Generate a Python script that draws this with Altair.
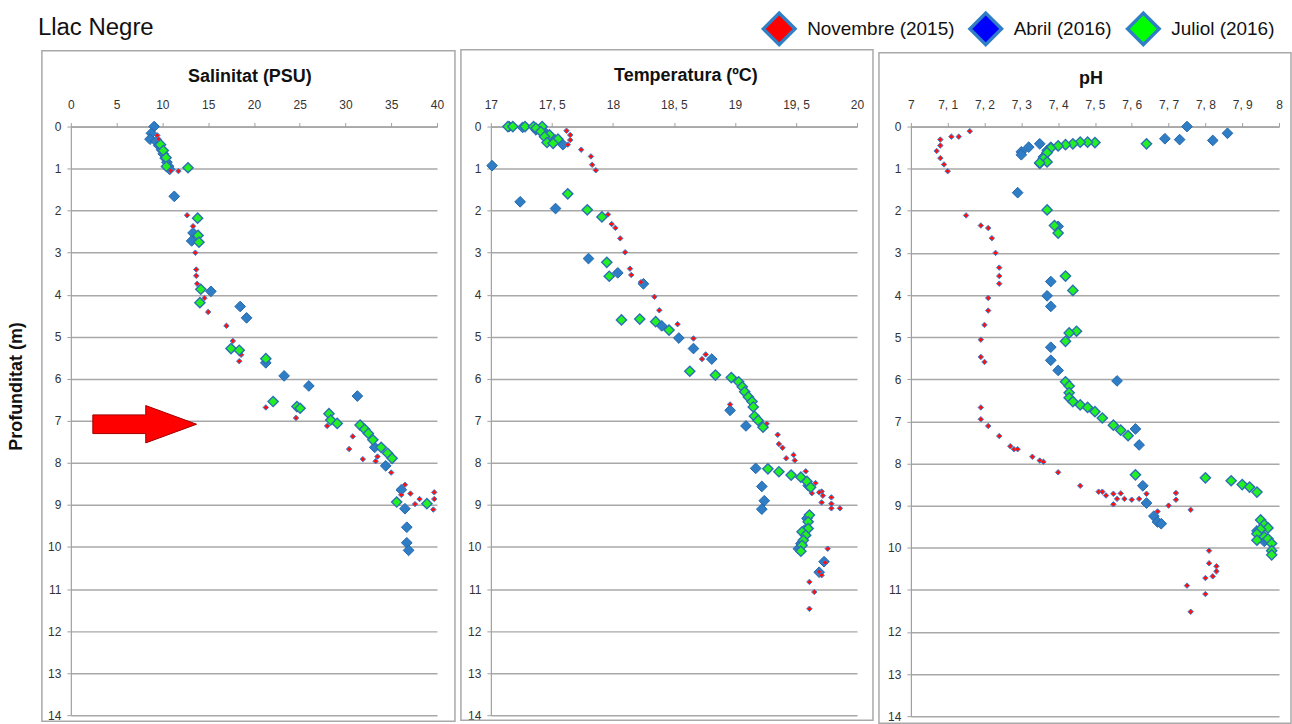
import altair as alt
import pandas as pd

FONT = "Liberation Sans"
series_names = ["Novembre (2015)", "Abril (2016)", "Juliol (2016)"]
legend_fills = ["#ff0000", "#0000ff", "#00ff00"]

# ---------------- Salinitat (PSU) ----------------
sal_nov_psu = [9.45, 9.6, 9.9, 10.2, 10.5, 10.7, 10.9, 11.75, 12.7, 13.35, 13.6, 13.7, 13.7, 13.8, 14.6, 15.0,
               17.0, 17.7, 18.6, 18.4, 21.3, 24.6, 28.0, 30.8, 30.4, 31.9, 33.3, 33.5, 35.0, 36.5, 36.1, 37.1,
               38.1, 37.6, 39.7, 39.7, 39.6]
sal_nov_m = [0.21, 0.30, 0.45, 0.60, 0.80, 0.95, 1.05, 1.06, 2.11, 2.37, 3.0, 3.4, 3.55, 3.74, 4.08, 4.41,
             4.74, 5.1, 5.43, 5.58, 6.68, 6.93, 7.12, 7.37, 7.67, 7.91, 7.96, 7.85, 8.23, 8.52, 8.76, 8.73,
             8.86, 8.98, 8.70, 8.86, 9.11]
sal_abr_psu = [9.1, 8.8, 8.65, 9.3, 9.6, 9.9, 10.1, 10.3, 10.5, 10.7, 10.8, 11.3, 13.35, 13.2, 15.3, 18.5,
               19.2, 21.3, 23.3, 26.0, 31.3, 33.2, 34.4, 36.1, 36.5, 36.7, 36.7, 36.9]
sal_abr_m = [0.0, 0.16, 0.30, 0.35, 0.45, 0.55, 0.65, 0.75, 0.85, 0.95, 1.02, 1.66, 2.53, 2.72, 3.92, 4.28,
             4.55, 5.62, 5.93, 6.17, 6.41, 7.63, 8.07, 8.64, 9.09, 9.53, 9.90, 10.08]
sal_jul_psu = [9.8, 10.1, 10.4, 10.45, 12.8, 13.85, 13.9, 14.0, 14.2, 14.1, 17.5, 18.4, 21.3, 22.1, 24.7,
               25.05, 28.2, 28.4, 29.1, 31.6, 32.1, 32.5, 33.0, 33.9, 34.6, 35.1, 35.6, 38.9]
sal_jul_m = [0.43, 0.57, 0.74, 0.95, 0.98, 2.18, 2.59, 2.75, 3.87, 4.19, 5.28, 5.32, 5.52, 6.54, 6.66,
             6.70, 6.83, 6.98, 7.06, 7.10, 7.20, 7.30, 7.45, 7.63, 7.77, 7.89, 8.93, 8.97]

# ---------------- Temperatura (ºC) ----------------
tmp_nov_c = [17.38, 17.62, 17.65, 17.65, 17.63, 17.74, 17.82, 17.83, 17.86, 17.96, 17.99, 18.02, 18.06, 18.10,
             18.14, 18.15, 18.23, 18.34, 18.38, 18.53, 18.66, 18.76, 18.73, 18.96, 19.26, 19.35, 19.36, 19.39,
             19.42, 19.48, 19.49, 19.58, 19.66, 19.63, 19.71, 19.72, 19.71, 19.79, 19.79, 19.79, 19.86, 19.69,
             19.76, 19.74, 19.69, 19.71, 19.61, 19.65, 19.61]
tmp_nov_m = [0.02, 0.10, 0.20, 0.32, 0.43, 0.55, 0.71, 0.91, 1.04, 2.09, 2.32, 2.41, 2.66, 2.99,
             3.38, 3.53, 3.70, 4.05, 4.37, 4.70, 5.04, 5.42, 5.53, 6.61, 7.07, 7.33, 7.55, 7.64,
             7.89, 7.81, 7.94, 8.20, 8.48, 8.72, 8.68, 8.78, 8.94, 8.82, 9.08, 8.97, 9.08, 8.70,
             10.04, 10.37, 10.59, 10.67, 10.83, 11.07, 11.47]
tmp_abr_c = [17.15, 17.26, 17.37, 17.45, 17.53, 17.59, 17.01, 17.24, 17.53, 17.80, 18.04, 18.25, 18.40, 18.54,
             18.66, 18.81, 18.96, 19.09, 19.17, 19.22, 19.24, 19.22, 19.60, 19.59, 19.57, 19.54, 19.52, 19.73,
             19.69]
tmp_abr_m = [0.0, 0.02, 0.08, 0.16, 0.32, 0.43, 0.93, 1.79, 1.95, 3.14, 3.48, 3.74, 4.74, 5.03,
             5.28, 5.53, 6.75, 7.12, 8.13, 8.56, 8.90, 9.10, 8.54, 9.32, 9.60, 9.92, 10.04, 10.35,
             10.60]
tmp_jul_c = [17.14, 17.18, 17.28, 17.35, 17.42, 17.37, 17.41, 17.48, 17.44, 17.55, 17.46, 17.51, 17.63, 17.79,
             17.91, 17.95, 17.97, 18.07, 18.22, 18.35, 18.46, 18.63, 18.84, 18.97, 19.03, 19.06, 19.08, 19.11,
             19.14, 19.15, 19.16, 19.19, 19.23, 19.27, 19.36, 19.46, 19.54, 19.59, 19.62, 19.61, 19.60, 19.60,
             19.55, 19.58, 19.56, 19.55, 19.54]
tmp_jul_m = [0.0, 0.0, 0.0, 0.0, 0.0, 0.04, 0.12, 0.20, 0.24, 0.30, 0.38, 0.40, 1.60, 1.98,
             2.15, 3.23, 3.56, 4.60, 4.58, 4.64, 4.84, 5.82, 5.91, 5.97, 6.07, 6.19, 6.31, 6.43,
             6.54, 6.67, 6.89, 6.99, 7.15, 8.14, 8.21, 8.29, 8.34, 8.44, 8.58, 9.24, 9.40, 9.56,
             9.64, 9.72, 9.84, 9.96, 10.10]

# ---------------- pH ----------------
ph_nov = [7.16, 7.13, 7.11, 7.08, 7.08, 7.07, 7.08, 7.09, 7.10, 7.15, 7.19, 7.21, 7.22, 7.23, 7.24, 7.24,
          7.24, 7.21, 7.21, 7.20, 7.19, 7.19, 7.20, 7.19, 7.19, 7.21, 7.24, 7.27, 7.28, 7.29, 7.33, 7.35,
          7.36, 7.40, 7.46, 7.51, 7.52, 7.53, 7.55, 7.57, 7.56, 7.58, 7.60, 7.62, 7.64, 7.55, 7.67, 7.70,
          7.72, 7.72, 7.76, 7.81, 7.81, 7.83, 7.83, 7.82, 7.80, 7.75, 7.80, 7.76]
ph_nov_m = [0.11, 0.24, 0.24, 0.31, 0.45, 0.58, 0.75, 0.90, 1.06, 2.11, 2.35, 2.41, 2.65, 3.00, 3.35, 3.55,
            3.73, 4.07, 4.37, 4.71, 5.06, 5.47, 5.59, 6.67, 6.95, 7.11, 7.35, 7.59, 7.66, 7.66, 7.84, 7.93,
            7.96, 8.21, 8.53, 8.67, 8.67, 8.76, 8.72, 8.71, 8.84, 8.84, 8.86, 8.84, 8.72, 8.97, 9.14, 9.00,
            8.86, 8.70, 9.10, 10.07, 10.37, 10.44, 10.56, 10.68, 10.72, 10.90, 11.10, 11.52]
ph_abr = [7.75, 7.86, 7.69, 7.73, 7.82, 7.35, 7.32, 7.30, 7.30, 7.36, 7.37, 7.38, 7.35, 7.29, 7.40, 7.38,
          7.37, 7.38, 7.38, 7.38, 7.40, 7.56, 7.61, 7.62, 7.63, 7.64, 7.66, 7.67, 7.68, 7.95, 7.96, 7.94]
ph_abr_m = [0.0, 0.16, 0.29, 0.31, 0.33, 0.41, 0.49, 0.60, 0.67, 0.72, 0.57, 0.49, 0.88, 1.57, 2.37, 3.68,
            4.02, 4.27, 5.24, 5.55, 5.79, 6.04, 7.18, 7.56, 8.53, 8.94, 9.25, 9.39, 9.43, 9.75, 9.85, 9.60]
ph_jul = [7.64, 7.50, 7.48, 7.46, 7.44, 7.42, 7.40, 7.38, 7.37, 7.36, 7.37, 7.35, 7.37, 7.39, 7.40, 7.42,
          7.44, 7.45, 7.43, 7.42, 7.42, 7.43, 7.43, 7.43, 7.44, 7.46, 7.48, 7.50, 7.52, 7.55, 7.57, 7.59,
          7.61, 7.80, 7.87, 7.90, 7.92, 7.94, 7.95, 7.96, 7.97, 7.95, 7.94, 7.96, 7.97, 7.98, 7.98, 7.98,
          7.94]
ph_jul_m = [0.41, 0.38, 0.37, 0.37, 0.41, 0.43, 0.46, 0.51, 0.62, 0.76, 0.84, 0.86, 1.98, 2.35, 2.53, 3.55,
            3.89, 4.86, 4.90, 5.10, 6.06, 6.16, 6.32, 6.44, 6.53, 6.61, 6.67, 6.77, 6.92, 7.09, 7.21, 7.34,
            8.27, 8.34, 8.41, 8.50, 8.56, 8.68, 9.34, 9.45, 9.53, 9.56, 9.67, 9.74, 9.79, 9.90, 10.07, 10.17,
            9.82]

sal_ticks = [0, 5, 10, 15, 20, 25, 30, 35, 40]
temp_ticks = [17, 17.5, 18, 18.5, 19, 19.5, 20]
ph_ticks = [7, 7.1, 7.2, 7.3, 7.4, 7.5, 7.6, 7.7, 7.8, 7.9, 8]
depth_ticks = list(range(15))

arrow_psu = [8.07]
arrow_m = [7.08]


def frame(groups):
    rows = []
    for name, (vals, deps) in zip(series_names, groups):
        for v, d in zip(vals, deps):
            rows.append({"serie": name, "val": v, "depth": d})
    return pd.DataFrame(rows)


sal_df = frame([(sal_nov_psu, sal_nov_m), (sal_abr_psu, sal_abr_m), (sal_jul_psu, sal_jul_m)])
tmp_df = frame([(tmp_nov_c, tmp_nov_m), (tmp_abr_c, tmp_abr_m), (tmp_jul_c, tmp_jul_m)])
ph_df = frame([(ph_nov, ph_nov_m), (ph_abr, ph_abr_m), (ph_jul, ph_jul_m)])

EDGE = "#2b70b4"
styles = {
    "Abril (2016)": dict(fill="#2f7dc4", stroke="#2467ab", strokeWidth=1, size=115),
    "Novembre (2015)": dict(fill="#ff1010", stroke="#3b7fd0", strokeWidth=1, size=30),
    "Juliol (2016)": dict(fill="#22f022", stroke=EDGE, strokeWidth=1.4, size=105),
}
draw_order = ["Abril (2016)", "Novembre (2015)", "Juliol (2016)"]
ARROW = "M-1,-0.18L0.02,-0.18L0.02,-0.36L1,0L0.02,0.36L0.02,0.18L-1,0.18Z"


def panel(df, dom, ticks, title, w, h, box, dx, ytitle=False, legend=False, arrow=False):
    xenc = alt.X("val:Q", scale=alt.Scale(domain=dom, nice=False, zero=False),
                 axis=alt.Axis(orient="top", values=ticks, title=None, grid=False, labelFlush=False,
                               labelExpr="replace(format(datum.value, '~g'), '.', ', ')",
                               tickSize=4, labelPadding=11))
    yaxis = dict(values=depth_ticks, grid=True, tickSize=4, labelPadding=6, title=None)
    if ytitle:
        yaxis.update(title="Profunditat (m)", titleX=-45, titleY=260, titleFontSize=18,
                     titleFontWeight="bold", titleFont=FONT, titleColor="#111")
    yenc = alt.Y("depth:Q", scale=alt.Scale(domain=[0, 14], reverse=True, nice=False, zero=False),
                 axis=alt.Axis(**yaxis))
    layers = [
        alt.Chart(pd.DataFrame({"k": [0]})).mark_rect(
            fill="#ffffff", fillOpacity=0, stroke="#a9a9a9", strokeWidth=1.5
        ).encode(x=alt.value(box[0]), x2=alt.value(box[1]), y=alt.value(box[2]), y2=alt.value(box[3]))
    ]
    if legend:
        layers.append(
            alt.Chart(df).mark_point(shape="diamond", filled=True, size=0, stroke="#2f7ec6",
                                     strokeWidth=3.5, opacity=1).encode(
                x=xenc, y=yenc,
                fill=alt.Fill("serie:N", scale=alt.Scale(domain=series_names, range=legend_fills),
                              legend=alt.Legend(orient="none", legendX=692, legendY=-116,
                                                direction="horizontal", title=None,
                                                symbolType="diamond", symbolSize=1000,
                                                symbolStrokeWidth=3.5, symbolStrokeColor="#2f7ec6",
                                                labelFontSize=19, labelFont=FONT, labelColor="#111",
                                                labelOffset=10, columnPadding=8, padding=0)))
        )
    for s in draw_order:
        st = styles[s]
        layers.append(
            alt.Chart(df[df["serie"] == s]).mark_point(shape="diamond", filled=True, opacity=1, **st)
            .encode(x=xenc, y=yenc)
        )
    if arrow:
        layers.append(
            alt.Chart(pd.DataFrame({"val": arrow_psu, "depth": arrow_m})).mark_point(
                shape=ARROW, size=10816, filled=True, fill="#ff0000", stroke="#a00000",
                strokeWidth=1, opacity=1).encode(x=xenc, y=yenc)
        )
    return alt.layer(*layers).properties(
        width=w, height=h,
        title=alt.TitleParams(title, fontSize=18, fontWeight="bold", font=FONT, color="#111",
                              frame="group", dx=dx, offset=-36))


p1 = panel(sal_df, [0, 40], sal_ticks, "Salinitat (PSU)", 367, 590, (-29, 385, -76, 596), -4,
           ytitle=True, legend=True, arrow=True)
p2 = panel(tmp_df, [17, 20], temp_ticks, "Temperatura (ºC)", 367, 590, (-30, 383, -77, 595), 12)
p3 = panel(ph_df, [7, 8], ph_ticks, "pH", 369, 591, (-32, 381, -74, 598), -4)

chart = alt.hconcat(p1, p2, p3, spacing=4).properties(
    title=alt.TitleParams("Llac Negre", anchor="start", fontSize=24, fontWeight="normal", font=FONT,
                          color="#111", dx=30, offset=-29),
    padding={"left": 8, "top": 10, "right": 0, "bottom": 0},
).configure_view(strokeWidth=0).configure_axis(
    labelFont=FONT, labelFontSize=12, labelColor="#333", domainColor="#a0a0a0", tickColor="#a0a0a0",
    gridColor="#a8a8a8", gridWidth=1.5, domainWidth=1.2
)

chart.save("out.html", embed_options={"renderer": "svg", "actions": False})
